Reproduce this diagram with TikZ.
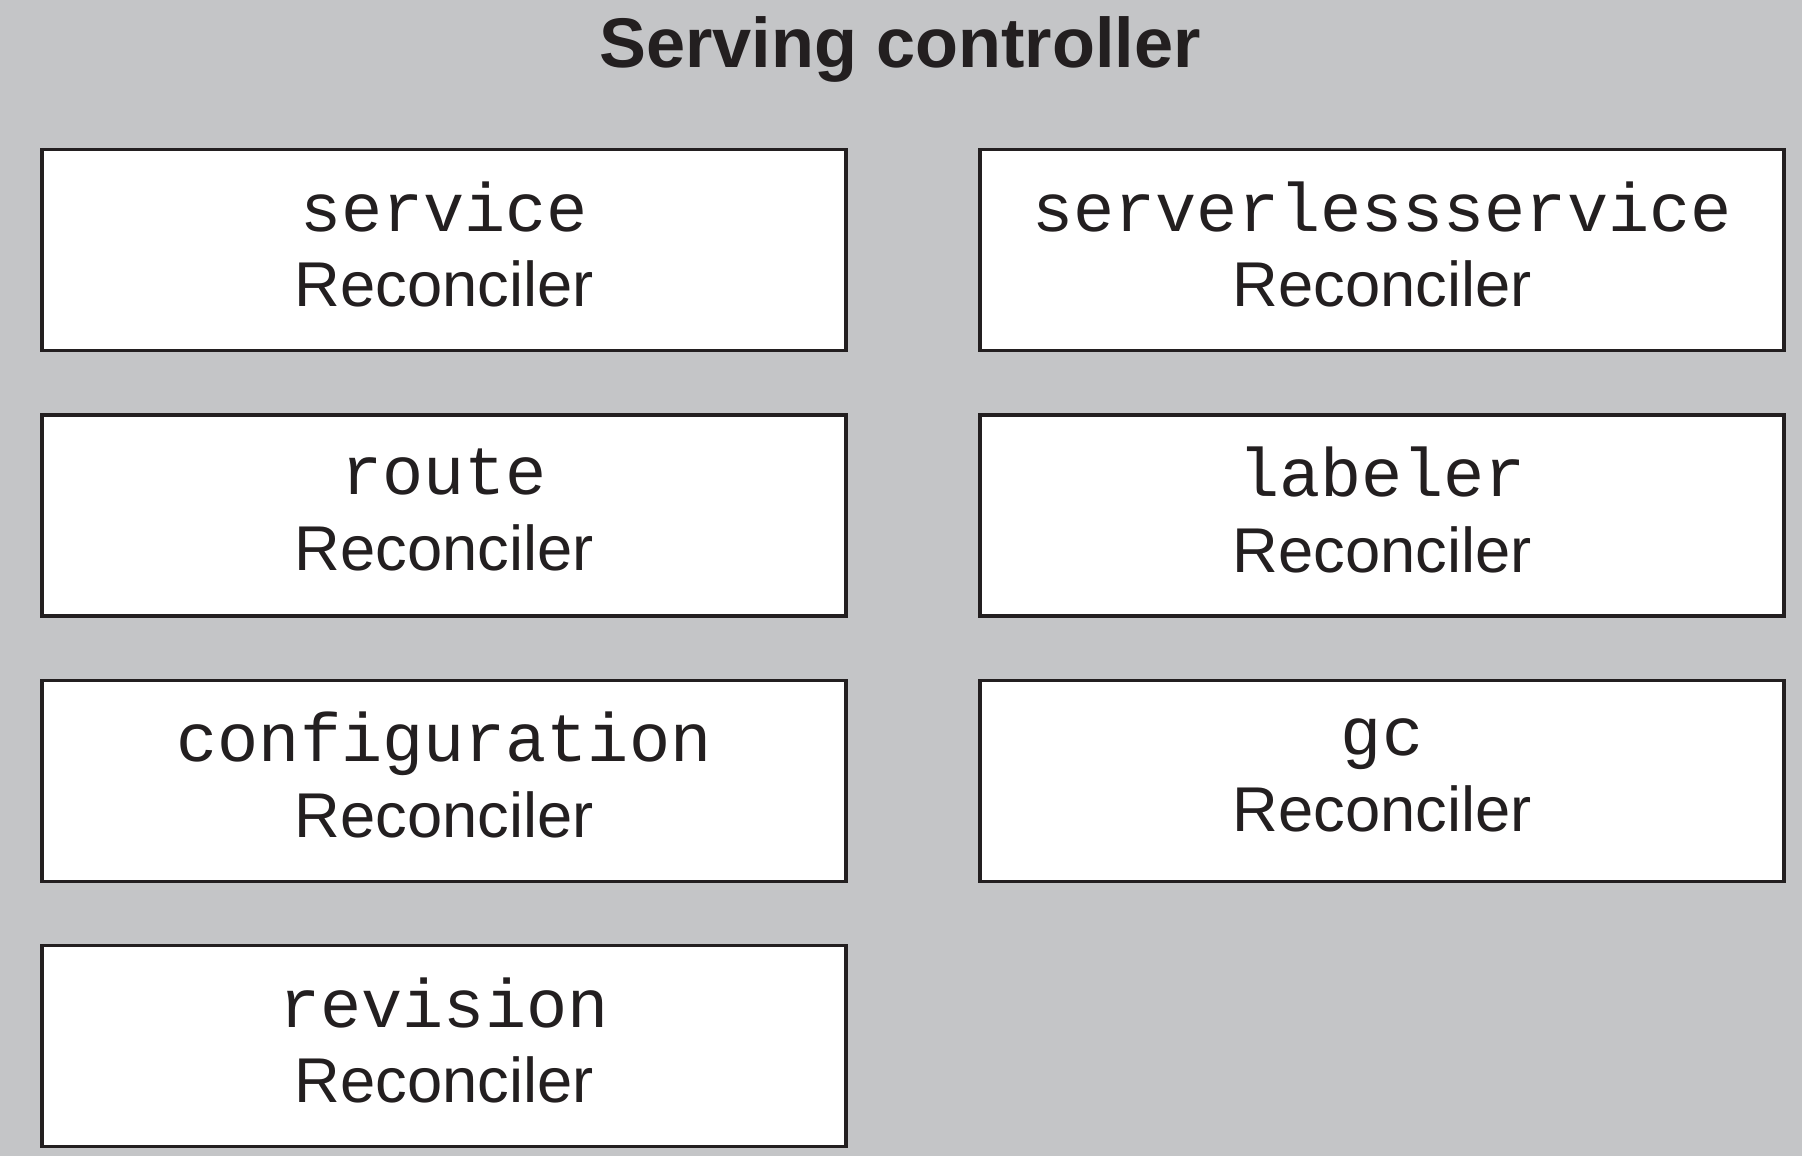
\documentclass[tikz,border=0pt]{standalone}
\usepackage{xcolor}
\usepackage{fontspec}
\setmainfont{Liberation Sans}
\setmonofont{Liberation Mono}
\usepackage{tikz}
\usetikzlibrary{positioning}
\definecolor{panelgray}{RGB}{196,197,199}
\definecolor{inkdark}{RGB}{35,31,32}
\tikzstyle{recon} = [draw=inkdark, line width=1pt, outer sep=0pt, fill=white, minimum width=8.04cm, minimum height=2.01cm, text depth=3.4pt, align=center, text=inkdark, font=\fontsize{18}{21.5}\selectfont]
\tikzstyle{title} = [text=inkdark, font=\fontsize{20}{24}\selectfont\bfseries]
\newcommand{\kind}[1]{{\ttfamily\fontsize{19.5}{21.5}\selectfont #1}}

\begin{document}
\begin{tikzpicture}
              \fill[panelgray] (0,0) rectangle (18.02,-11.56);
              \useasboundingbox (0,0) rectangle (18.02,-11.56);

              \node[title] (head) at (9.0,-0.49) {Serving controller};

              \node[recon] (service) at (4.44,-2.50) {\kind{service}\\Reconciler};
              \node[recon, below=0.644cm of service] (route) {\kind{route}\\Reconciler};
              \node[recon, below=0.644cm of route] (configuration) {\kind{configuration}\\Reconciler};
              \node[recon, below=0.644cm of configuration] (revision) {\kind{revision}\\Reconciler};

              \node[recon, right=1.34cm of service] (serverless) {\kind{serverlessservice}\\Reconciler};
              \node[recon, below=0.644cm of serverless] (labeler) {\kind{labeler}\\Reconciler};
              \node[recon, below=0.644cm of labeler] (gc) {\kind{gc}\\Reconciler};
          \end{tikzpicture}
\end{document}
